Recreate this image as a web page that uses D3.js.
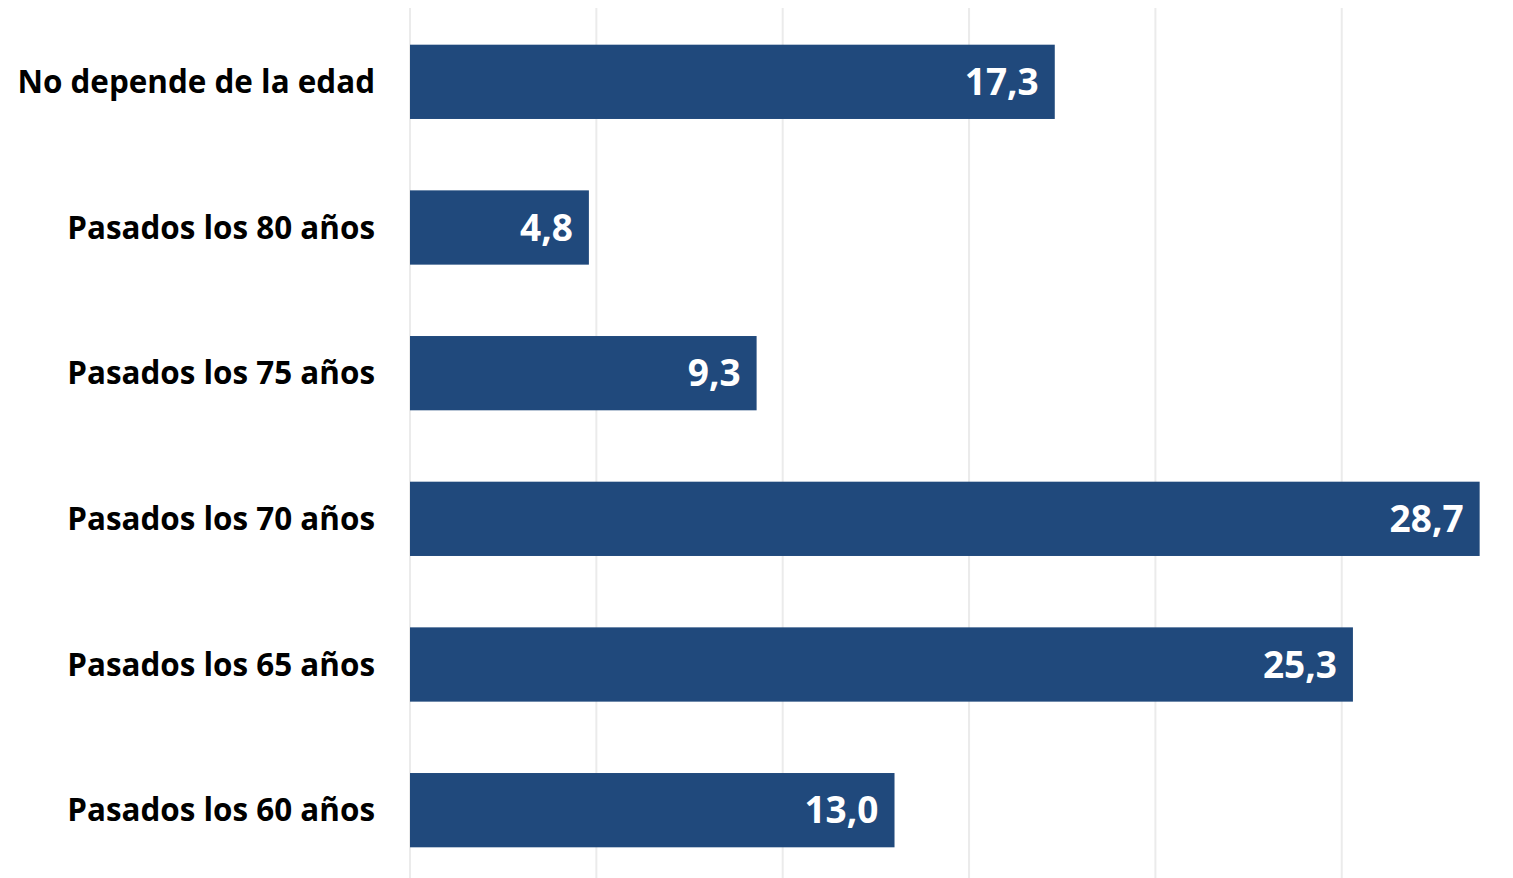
<!DOCTYPE html>
<html><head>
<meta charset="utf-8">
<script src="https://d3js.org/d3.v7.min.js"></script>
<style>
  body { margin: 0; background: #fff; }
  text { font-family: "Open Sans", "Liberation Sans", sans-serif; font-weight: 700; }
</style>
</head>
<body>
<svg id="chart" width="1513" height="878"></svg>
<script>
// data (top to bottom)
const categories = ["No depende de la edad", "Pasados los 80 años", "Pasados los 75 años",
                    "Pasados los 70 años", "Pasados los 65 años", "Pasados los 60 años"];
const values = [17.3, 4.8, 9.3, 28.7, 25.3, 13.0];
const gridTicks = [0, 5, 10, 15, 20, 25];

const svg = d3.select("#chart");
const chartLeft = 410;

const x = d3.scaleLinear().domain([0, 30]).range([chartLeft, chartLeft + 30 * 37.27]);
const y = d3.scaleBand().domain(categories).range([9, 883]).paddingInner(0.49).paddingOuter(0.245);

// light vertical grid
svg.append("g").selectAll("line").data(gridTicks)
  .join("line")
  .attr("x1", d => x(d)).attr("x2", d => x(d))
  .attr("y1", 8).attr("y2", 878)
  .attr("stroke", "#ebebeb").attr("stroke-width", 2);

const rows = categories.map((c, i) => ({cat: c, val: values[i]}));

svg.append("g").selectAll("rect").data(rows)
  .join("rect")
  .attr("x", x(0))
  .attr("y", d => y(d.cat))
  .attr("width", d => x(d.val) - x(0))
  .attr("height", y.bandwidth())
  .attr("fill", "#20497c");

// value labels inside bar ends
svg.append("g").selectAll("text").data(rows)
  .join("text")
  .attr("x", d => x(d.val) - 16)
  .attr("y", d => y(d.cat) + y.bandwidth() / 2)
  .attr("dy", "0.36em")
  .attr("text-anchor", "end")
  .attr("fill", "#fff")
  .attr("font-size", 37)
  .text(d => d.val.toFixed(1).replace(".", ","));

// category labels
svg.append("g").selectAll("text").data(rows)
  .join("text")
  .attr("x", 375)
  .attr("y", d => y(d.cat) + y.bandwidth() / 2)
  .attr("dy", "0.36em")
  .attr("text-anchor", "end")
  .attr("fill", "#000")
  .attr("font-size", 31.4)
  .text(d => d.cat);
</script>
</body>
</html>
